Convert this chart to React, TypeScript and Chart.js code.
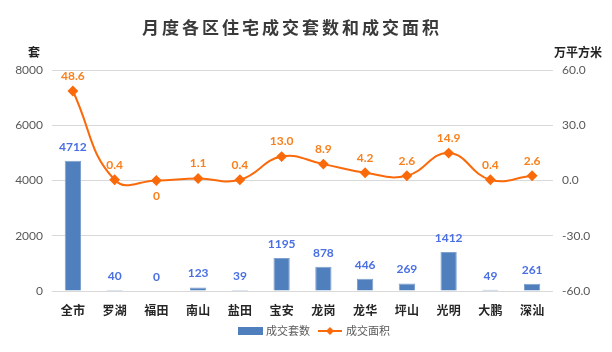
import React, { useEffect, useRef } from "react";
import { Chart, registerables } from "chart.js";

Chart.register(...registerables);

const categories = ["全市", "罗湖", "福田", "南山", "盐田", "宝安", "龙岗", "龙华", "坪山", "光明", "大鹏", "深汕"];
const unitsSold = [4712, 40, 0, 123, 39, 1195, 878, 446, 269, 1412, 49, 261];
const areaSold = [48.6, 0.4, 0, 1.1, 0.4, 13.0, 8.9, 4.2, 2.6, 14.9, 0.4, 2.6];
const areaLabels = ["48.6", "0.4", "0", "1.1", "0.4", "13.0", "8.9", "4.2", "2.6", "14.9", "0.4", "2.6"];
const leftTicks = [0, 2000, 4000, 6000, 8000];
const rightTicks = [-60, -30, 0, 30, 60];

const TITLE = "月度各区住宅成交套数和成交面积";
const BAR_NAME = "成交套数";
const LINE_NAME = "成交面积";
const BAR_COLOR = "#4f7fbc";
const LINE_COLOR = "#fa6a0a";
const BAR_LABEL = "#4a6fe3";
const LINE_LABEL = "#f8801e";
const CJK = "'Noto Sans CJK SC', 'Noto Sans', sans-serif";
const NUM = "Lato, 'Noto Sans CJK SC', sans-serif";

function drawDiamond(ctx: CanvasRenderingContext2D, x: number, y: number, r: number) {
  ctx.beginPath();
  ctx.moveTo(x, y - r);
  ctx.lineTo(x + r, y);
  ctx.lineTo(x, y + r);
  ctx.lineTo(x - r, y);
  ctx.closePath();
  ctx.fill();
}

const decorPlugin = {
  id: "decor",
  afterDatasetsDraw(chart: any) {
    const ctx: CanvasRenderingContext2D = chart.ctx;
    ctx.save();
    // title
    ctx.fillStyle = "#3a3a3a";
    ctx.font = `bold 17px ${CJK}`;
    ctx.textAlign = "center";
    ctx.textBaseline = "middle";
    (ctx as any).letterSpacing = "3px";
    ctx.fillText(TITLE, 292, 28);
    (ctx as any).letterSpacing = "0px";
    // axis units
    ctx.font = `bold 12px ${CJK}`;
    ctx.fillStyle = "#222";
    ctx.fillText("套", 34, 52);
    ctx.fillText("万平方米", 578, 52);

    // bar labels
    const barMeta = chart.getDatasetMeta(0);
    ctx.font = `bold 12px ${NUM}`;
    ctx.fillStyle = BAR_LABEL;
    barMeta.data.forEach((el: any, i: number) => {
      ctx.fillText(String(unitsSold[i]), el.x, el.y - 14);
    });
    // line labels
    const lineMeta = chart.getDatasetMeta(1);
    ctx.fillStyle = LINE_LABEL;
    lineMeta.data.forEach((el: any, i: number) => {
      const below = areaSold[i] === 0;
      ctx.fillText(areaLabels[i], el.x, below ? el.y + 16 : el.y - 15);
    });

    // legend
    const ly = 331;
    ctx.fillStyle = BAR_COLOR;
    ctx.fillRect(238, ly - 4, 25, 8);
    ctx.font = `11px ${CJK}`;
    ctx.fillStyle = "#595959";
    ctx.textAlign = "left";
    ctx.fillText(BAR_NAME, 266, ly);
    ctx.strokeStyle = LINE_COLOR;
    ctx.lineWidth = 2;
    ctx.beginPath();
    ctx.moveTo(318, ly);
    ctx.lineTo(342, ly);
    ctx.stroke();
    ctx.fillStyle = LINE_COLOR;
    drawDiamond(ctx, 330, ly, 4);
    ctx.fillStyle = "#595959";
    ctx.fillText(LINE_NAME, 346, ly);
    ctx.restore();
  },
};

export default function App() {
  const ref = useRef<HTMLCanvasElement | null>(null);
  useEffect(() => {
    if (!ref.current) return;
    const chart = new Chart(ref.current, {
      type: "bar",
      data: {
        labels: categories,
        datasets: [
          {
            type: "bar",
            label: BAR_NAME,
            data: unitsSold,
            backgroundColor: BAR_COLOR,
            borderColor: "#7ea1cf",
            borderWidth: 1,
            barPercentage: 0.39,
            categoryPercentage: 1,
            yAxisID: "y",
            order: 2,
          },
          {
            type: "line",
            label: LINE_NAME,
            data: areaSold,
            borderColor: LINE_COLOR,
            backgroundColor: LINE_COLOR,
            borderWidth: 2,
            tension: 0.45,
            cubicInterpolationMode: "default",
            pointStyle: "rectRot",
            pointRadius: 4,
            pointHoverRadius: 4,
            yAxisID: "y1",
            order: 1,
          } as any,
        ],
      },
      options: {
        animation: false,
        responsive: false,
        layout: { padding: { top: 70, bottom: 0, left: 0, right: 0 } },
        plugins: { legend: { display: false }, title: { display: false }, tooltip: { enabled: false } },
        scales: {
          x: {
            grid: { display: false, drawTicks: false },
            border: { display: false },
            ticks: { color: "#262626", font: { family: CJK, size: 12, weight: "bold" }, padding: 12, maxRotation: 0 },
            afterFit(scale: any) { scale.height = 61; },
          },
          y: {
            position: "left",
            min: 0,
            max: 8000,
            afterBuildTicks(scale: any) { scale.ticks = leftTicks.map((v) => ({ value: v })); },
            grid: { color: "#d9d9d9", lineWidth: 1, drawTicks: false },
            border: { display: false },
            ticks: { color: "#595959", font: { family: NUM, size: 12 }, padding: 9, callback: (v: any) => String(v) },
            afterFit(scale: any) { scale.width = 52; },
          },
          y1: {
            position: "right",
            min: -60,
            max: 60,
            afterBuildTicks(scale: any) { scale.ticks = rightTicks.map((v) => ({ value: v })); },
            grid: { display: false, drawTicks: false },
            border: { display: false },
            ticks: { color: "#595959", font: { family: NUM, size: 12 }, padding: 9, callback: (v: any) => Number(v).toFixed(1) },
            afterFit(scale: any) { scale.width = 59; },
          },
        },
      },
      plugins: [decorPlugin],
    } as any);
    return () => chart.destroy();
  }, []);
  return (
    <div style={{ position: "fixed", left: 0, top: 0, width: 612, height: 352, background: "#fff" }}>
      <canvas ref={ref} width={612} height={352} style={{ width: 612, height: 352, display: "block" }} />
    </div>
  );
}
